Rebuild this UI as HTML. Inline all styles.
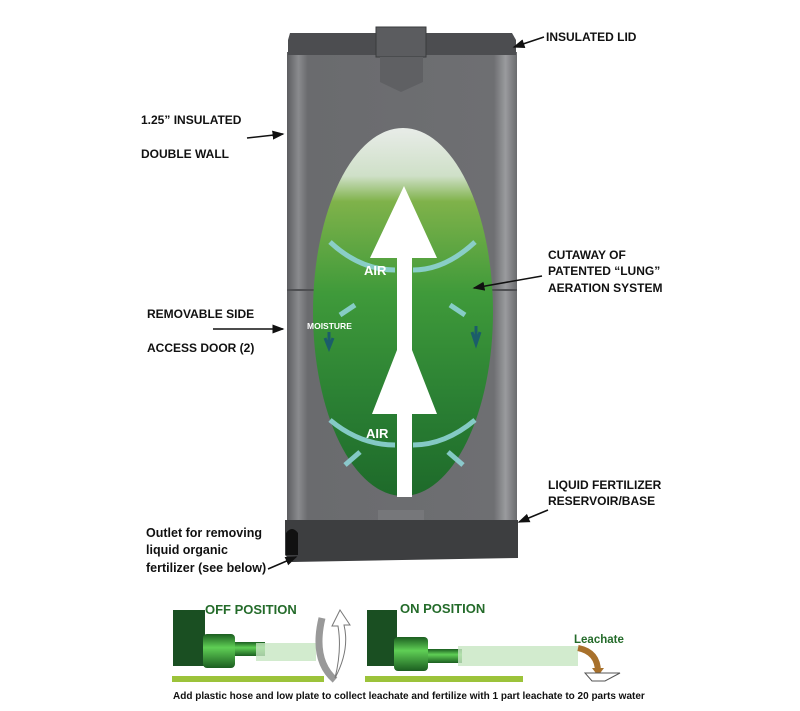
<!DOCTYPE html>
<html><head><meta charset="utf-8"><style>
html,body{margin:0;padding:0;background:#fff;width:800px;height:711px;overflow:hidden}
svg{display:block}
.l{font-family:"Liberation Sans",sans-serif;font-weight:bold;font-size:12px;fill:#111}
.o{font-family:"Liberation Sans",sans-serif;font-weight:bold;font-size:12.5px;fill:#111}
</style></head><body>
<svg width="800" height="711" viewBox="0 0 800 711">
<defs>
<linearGradient id="body" x1="0" x2="1">
<stop offset="0" stop-color="#5c5d60"/><stop offset="0.05" stop-color="#8a8b8e"/><stop offset="0.09" stop-color="#6a6b6e"/><stop offset="0.9" stop-color="#6e6f72"/><stop offset="0.95" stop-color="#9a9b9e"/><stop offset="1" stop-color="#6a6b6e"/>
</linearGradient>
<linearGradient id="ell" x1="0" y1="0" x2="0" y2="1">
<stop offset="0" stop-color="#e8ece8"/><stop offset="0.13" stop-color="#cfe0c8"/><stop offset="0.2" stop-color="#7fb24a"/><stop offset="0.45" stop-color="#3f9a3a"/><stop offset="0.75" stop-color="#2a7f33"/><stop offset="1" stop-color="#1e6a2a"/>
</linearGradient>
<linearGradient id="pipe" x1="0" y1="0" x2="0" y2="1">
<stop offset="0" stop-color="#1b5e20"/><stop offset="0.4" stop-color="#5fcf55"/><stop offset="1" stop-color="#1b5e20"/>
</linearGradient>
<marker id="ah" markerWidth="8" markerHeight="8" refX="7" refY="4" orient="auto"><path d="M0,1 L8,4 L0,7 Z" fill="#111"/></marker>
</defs>
<!-- body -->
<rect x="287" y="52" width="230" height="470" fill="url(#body)"/>
<line x1="287" y1="290" x2="517" y2="290" stroke="#4e4f52" stroke-width="2"/>
<!-- lid -->
<path d="M290,33 L512,33 L516,40 L516,55 L288,55 L288,40 Z" fill="#4c4d50"/>
<rect x="376" y="27" width="50" height="30" fill="#5b5c5f" stroke="#3a3b3d"/>
<path d="M380,57 L423,57 L423,82 L401,92 L380,82 Z" fill="#5f6063"/>
<!-- ellipse -->
<ellipse cx="403" cy="312" rx="90" ry="184" fill="url(#ell)"/>
<!-- air arrows -->
<g fill="none" stroke="#8fd3d6" stroke-width="5" opacity="0.9">
<path d="M330,242 Q360,270 395,270"/><path d="M475,242 Q445,270 413,270"/>
<path d="M330,420 Q360,445 395,445"/><path d="M475,420 Q445,445 413,445"/>
<path d="M355,305 L340,315"/><path d="M450,305 L465,315"/>
<path d="M360,452 L345,465"/><path d="M448,452 L463,465"/>
</g>
<path d="M397,190 L397,258 L370,258 L404,186 L437,258 L412,258 L412,350 L437,414 L412,414 L412,497 L397,497 L397,414 L372,414 L397,350 Z" fill="#fff"/>
<text x="364" y="275" font-family="Liberation Sans,sans-serif" font-size="13" fill="#fff" font-weight="bold">AIR</text>
<text x="366" y="438" font-family="Liberation Sans,sans-serif" font-size="13" fill="#fff" font-weight="bold">AIR</text>
<text x="307" y="329" font-family="Liberation Sans,sans-serif" font-size="8.5" fill="#fff" font-weight="bold">MOISTURE</text>
<path d="M325,338 L329,348 L333,338 M329,332 L329,348" stroke="#1b5d6a" stroke-width="3" fill="none"/>
<path d="M472,332 L476,344 L480,332 M476,326 L476,344" stroke="#1b5d6a" stroke-width="3" fill="none"/>
<!-- base -->
<rect x="378" y="510" width="46" height="12" fill="#76777a"/>
<path d="M285,520 L518,520 L518,558 L292,562 L285,555 Z" fill="#3d3e40"/>
<path d="M286,555 L286,533 Q292,525 298,533 L298,555 Z" fill="#111"/>
<!-- labels -->
<text class="l" x="546" y="41">INSULATED LID</text>
<line x1="544" y1="37" x2="514" y2="47" stroke="#111" stroke-width="1.5" marker-end="url(#ah)"/>
<text class="l" x="141" y="124">1.25” INSULATED</text>
<text class="l" x="141" y="158">DOUBLE WALL</text>
<line x1="247" y1="138" x2="283" y2="134" stroke="#111" stroke-width="1.5" marker-end="url(#ah)"/>
<text class="l" x="548" y="259">CUTAWAY OF</text>
<text class="l" x="548" y="275">PATENTED “LUNG”</text>
<text class="l" x="548" y="292">AERATION SYSTEM</text>
<line x1="542" y1="276" x2="474" y2="288" stroke="#111" stroke-width="1.5" marker-end="url(#ah)"/>
<text class="l" x="147" y="318">REMOVABLE SIDE</text>
<text class="l" x="147" y="352">ACCESS DOOR (2)</text>
<line x1="213" y1="329" x2="283" y2="329" stroke="#111" stroke-width="1.5" marker-end="url(#ah)"/>
<text class="l" x="548" y="489">LIQUID FERTILIZER</text>
<text class="l" x="548" y="505">RESERVOIR/BASE</text>
<line x1="548" y1="510" x2="519" y2="522" stroke="#111" stroke-width="1.5" marker-end="url(#ah)"/>
<text class="o" x="146" y="537">Outlet for removing</text>
<text class="o" x="146" y="554">liquid organic</text>
<text class="o" x="146" y="572">fertilizer (see below)</text>
<line x1="268" y1="569" x2="296" y2="557" stroke="#111" stroke-width="1.5" marker-end="url(#ah)"/>
<!-- bottom diagram -->
<rect x="173" y="610" width="32" height="56" fill="#1a4f22"/>
<rect x="203" y="634" width="32" height="34" rx="4" fill="url(#pipe)"/>
<rect x="235" y="642" width="30" height="14" fill="url(#pipe)"/>
<rect x="256" y="643" width="60" height="18" fill="#c7e6c2" opacity="0.8"/>
<rect x="172" y="676" width="152" height="6" fill="#9cc33a"/>
<text x="205" y="614" font-family="Liberation Sans,sans-serif" font-weight="bold" font-size="13" fill="#246b2a">OFF POSITION</text>
<path d="M322,618 Q312,660 335,680" stroke="#999" stroke-width="7" fill="none"/>
<path d="M335,678 Q350,650 344,625 L350,625 L340,610 L332,626 L338,626 Q342,650 335,678" fill="#fff" stroke="#777" stroke-width="1"/>
<rect x="367" y="610" width="30" height="56" fill="#1a4f22"/>
<rect x="394" y="637" width="34" height="34" rx="4" fill="url(#pipe)"/>
<rect x="428" y="649" width="34" height="14" fill="url(#pipe)"/>
<rect x="458" y="646" width="120" height="20" fill="#c7e6c2" opacity="0.8"/>
<rect x="365" y="676" width="158" height="6" fill="#9cc33a"/>
<text x="400" y="613" font-family="Liberation Sans,sans-serif" font-weight="bold" font-size="13" fill="#246b2a">ON POSITION</text>
<text x="574" y="643" font-family="Liberation Sans,sans-serif" font-weight="bold" font-size="11.5" fill="#246b2a">Leachate</text>
<path d="M578,648 Q598,652 598,672" stroke="#a8712c" stroke-width="6" fill="none"/>
<path d="M592,668 L604,668 L598,676 Z" fill="#a8712c"/>
<path d="M585,673 L620,673 L605,681 L592,681 Z" fill="#fff" stroke="#555" stroke-width="1"/>
<text x="173" y="699" font-family="Liberation Sans,sans-serif" font-weight="bold" font-size="10" fill="#111">Add plastic hose and low  plate to collect leachate and fertilize with 1 part leachate to 20 parts water</text>
</svg>
</body></html>
